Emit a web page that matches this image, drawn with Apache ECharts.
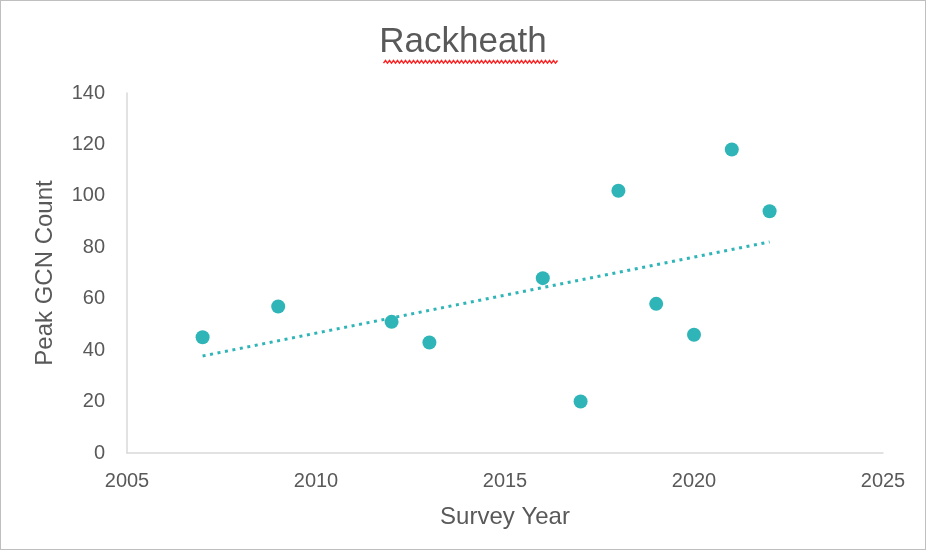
<!DOCTYPE html>
<html>
<head>
<meta charset="utf-8">
<script src="https://cdn.jsdelivr.net/npm/echarts@6/dist/echarts.min.js"></script>
<style>
  html, body { margin: 0; padding: 0; background: #fff; }
  #chart {
    width: 924px;
    height: 548px;
    border: 1px solid #bfbfbf;
  }
</style>
</head>
<body>
<div id="chart"></div>
<script>
// survey data
const years = [2007, 2009, 2012, 2013, 2016, 2017, 2018, 2019, 2020, 2021, 2022]
const counts = [45, 57, 51, 43, 68, 20, 102, 58, 46, 118, 94]
const xTicks = [2005, 2010, 2015, 2020, 2025]
const yTicks = [0, 20, 40, 60, 80, 100, 120, 140]

const teal = '#2fb5b8'
const grey = '#595959'
const font = 'Liberation Sans, Arial, sans-serif'

// linear trendline (least squares) over the data
const trend = (function () {
  let n = years.length
  let mx = years.reduce((a, b) => a + b, 0) / n
  let my = counts.reduce((a, b) => a + b, 0) / n
  let sxy = 0
  let sxx = 0
  for (let i = 0; i < n; i++) {
    sxy += (years[i] - mx) * (counts[i] - my)
    sxx += (years[i] - mx) * (years[i] - mx)
  }
  let k = sxy / sxx
  let x0 = Math.min(...years)
  let x1 = Math.max(...years)
  return [[x0, my + k * (x0 - mx)], [x1, my + k * (x1 - mx)]]
})()

// red spell-check squiggle under the title
const squiggle = (function () {
  let pts = []
  for (let x = 0, i = 0; x <= 174; x += 2, i++) {
    pts.push([x, i % 2 ? 0 : 2.6])
  }
  return pts
})()

const myChart = echarts.init(document.getElementById('chart'))
myChart.setOption({
  animation: false,
  title: {
    text: 'Rackheath',
    left: 'center',
    top: 19,
    textStyle: { fontFamily: font, fontSize: 35, fontWeight: 'normal', color: grey }
  },
  grid: { left: 126, right: 42, top: 92, bottom: 96 },
  xAxis: {
    type: 'value',
    min: xTicks[0],
    max: xTicks[xTicks.length - 1],
    interval: 5,
    name: 'Survey Year',
    nameLocation: 'middle',
    nameGap: 52,
    nameTextStyle: { fontFamily: font, fontSize: 24, color: grey },
    axisLine: { show: true, lineStyle: { color: '#d9d9d9', width: 1.5 } },
    axisTick: { show: false },
    splitLine: { show: false },
    axisLabel: { fontFamily: font, fontSize: 20, color: grey, margin: 18, formatter: v => String(v) }
  },
  yAxis: {
    type: 'value',
    min: yTicks[0],
    max: yTicks[yTicks.length - 1],
    interval: 20,
    name: 'Peak GCN Count',
    nameLocation: 'middle',
    nameGap: 70,
    nameTextStyle: { fontFamily: font, fontSize: 24, color: grey },
    axisLine: { show: true, lineStyle: { color: '#d9d9d9', width: 1.5 } },
    axisTick: { show: false },
    splitLine: { show: false },
    axisLabel: { fontFamily: font, fontSize: 20, color: grey, margin: 22 }
  },
  graphic: [
    {
      type: 'polyline',
      left: 380,
      top: 57,
      shape: { points: squiggle },
      style: { stroke: '#ff2020', lineWidth: 1.4, fill: null },
      silent: true
    }
  ],
  series: [
    {
      name: 'Trend',
      type: 'line',
      data: trend,
      symbol: 'none',
      lineStyle: { color: teal, width: 3, type: [3, 4.6], cap: 'butt' },
      z: 1
    },
    {
      name: 'Peak GCN Count',
      type: 'scatter',
      data: years.map((y, i) => [y, counts[i]]),
      symbolSize: 14,
      itemStyle: { color: teal, opacity: 1 },
      z: 2
    }
  ]
})
</script>
</body>
</html>
